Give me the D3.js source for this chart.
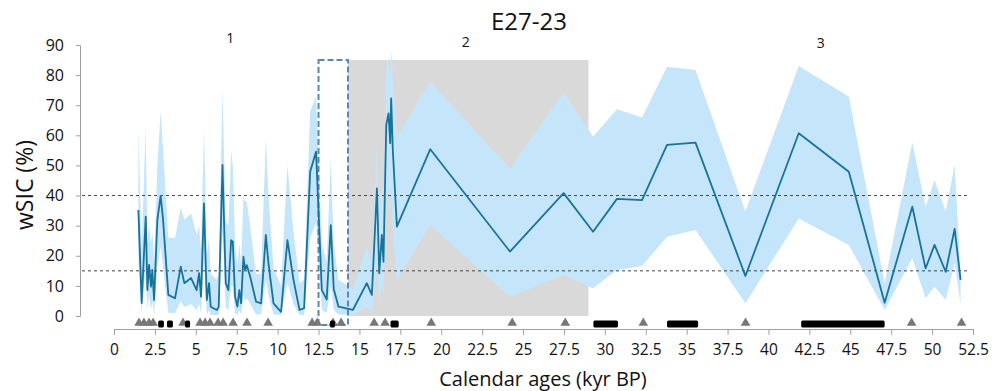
<!DOCTYPE html>
<html>
<head>
<meta charset="utf-8">
<script src="https://cdn.jsdelivr.net/npm/d3@7/dist/d3.min.js"></script>
<style>
  body { margin: 0; background: #fff; }
  svg { display: block; font-family: "Open Sans", "DejaVu Sans", sans-serif; }
</style>
</head>
<body>
<svg id="chart" width="1007" height="391"></svg>
<script>
// ---- data ----
const ages  = [1.49,1.69,1.94,2.04,2.14,2.26,2.34,2.45,2.65,2.85,3.0,3.32,3.73,4.08,4.3,4.71,5.05,5.2,5.32,5.5,5.67,5.81,5.91,6.28,6.4,6.63,6.83,6.99,7.16,7.26,7.4,7.54,7.66,7.77,7.91,8.01,8.11,8.32,8.68,8.99,9.28,9.44,9.75,10.21,10.6,10.97,11.34,11.62,11.99,12.35,12.7,13.0,13.25,13.43,13.72,14.6,15.45,15.76,16.07,16.21,16.37,16.47,16.64,16.78,16.88,16.94,17.04,17.29,19.33,24.2,27.48,29.28,30.74,32.27,33.8,35.54,38.59,41.85,44.91,47.1,48.79,49.6,50.15,50.83,51.38,51.74];
const wsic  = [35.2,4.3,33,8.6,17,9.7,15.3,5.3,31.9,39.9,31.9,7,5.9,16.4,10.9,12.6,8.6,14.2,6.4,37.4,5.3,10.9,3.1,2,3,50.2,10.9,8.6,25.2,24.7,6.4,3.1,8.6,4.2,19.7,15.3,16.9,13.1,4.8,4.2,26.9,17.5,4.2,1.4,25.2,12,2,2.6,47.9,54.6,8.6,5.5,30.2,9,3.1,2.0,10.9,7.0,42.4,14.2,26.9,18,63.5,67.3,57.4,72.3,55.1,29.7,55.4,21.4,40.8,28,38.9,38.5,56.8,57.6,13.3,60.7,47.9,4.4,36.3,15.8,23.6,14.7,28.9,12];
const upper = [63,22,63,24,30,24,28,18,50,68,55,26,26,36,32,34,27,30,22,62,20,26,14,12,14,75,32,30,55,50,24,17,24,17,40,38,38,30,14,14,59,40,16,10,50,28,11,12,68,73,24,18,52,24,12,9,23,18,58,30,45,35,82,86,80,88,80,59.6,77.8,49,74.2,59.6,68.7,65.9,82.8,81.7,34.7,83,72.9,10.9,57.6,36.3,45.2,34.7,50.2,14];
const lower = [18,1,16,2,7,2,5,0.5,16,23,16,1,1,5,3,4,2,4,1,18,0.5,2,0.3,0.3,0.3,28,3,2,10,10,1,0.3,2,0.5,7,5,6,4,0.5,0.5,12,7,0.5,0.3,11,4,0.3,0.3,26,31,2,1,10,2,0.5,0.3,3,1,18,5,10,7,38,43,33,43,28,12,30.2,6.4,13.6,9.2,15.3,16.6,26.3,28.6,4.2,32.4,23.6,2.0,19.2,5.9,9.7,5.3,17.5,4];

const xTicks = [0,2.5,5,7.5,10,12.5,15,17.5,20,22.5,25,27.5,30,32.5,35,37.5,40,42.5,45,47.5,50,52.5];
const yTicks = [0,10,20,30,40,50,60,70,80,90];
const thresholds = [15, 40];

// dated levels (triangles) and age intervals (black bars)
const triangles = [1.53,1.83,2.14,2.39,4.22,5.26,5.57,5.87,6.36,6.67,7.28,8.13,9.42,12.11,12.42,13.39,13.88,15.9,16.57,19.39,24.34,27.58,32.35,38.6,48.75,51.8];
const barStarts = [2.7,3.24,4.34,13.2,16.9,29.3,33.8,42.0];
const barEnds   = [3.05,3.6,4.65,13.5,17.4,30.8,35.7,47.1];

// shaded interval and dashed box
const grayStart = 14.3, grayEnd = 29.0, grayTop = 85;
const boxStart = 12.5, boxEnd = 14.3, boxTop = 85, boxBottom = -3;

const zoneLabels = ["1","2","3"];
const zoneAges   = [7.1, 21.5, 43.2];
const zoneVals   = [90.5, 89.5, 89];

// ---- drawing ----
const svg = d3.select("#chart");
const x = d3.scaleLinear().domain([0, 52.5]).range([114, 973]);
const y = d3.scaleLinear().domain([0, 90]).range([316, 45]);

const textColor = "#111";
const axisColor = "#a0a0a0";

// gray period
svg.append("rect")
  .attr("x", x(grayStart)).attr("y", y(grayTop))
  .attr("width", x(grayEnd) - x(grayStart)).attr("height", y(0) - y(grayTop))
  .attr("fill", "#d9d9d9");

const pts = ages.map((a, i) => ({a, v: wsic[i], u: upper[i], l: lower[i]}));

// uncertainty band
svg.append("path")
  .datum(pts)
  .attr("fill", "#c5e5fb")
  .attr("d", d3.area().x(d => x(d.a)).y0(d => y(d.l)).y1(d => y(d.u)));

// threshold lines
svg.selectAll("line.thr").data(thresholds).enter().append("line")
  .attr("class", "thr")
  .attr("x1", 82).attr("x2", x(52.3))
  .attr("y1", d => y(d)).attr("y2", d => y(d))
  .attr("stroke", "#444").attr("stroke-width", 1)
  .attr("stroke-dasharray", "3,3");

// dashed box
svg.append("rect")
  .attr("x", x(boxStart)).attr("y", y(boxTop))
  .attr("width", x(boxEnd) - x(boxStart)).attr("height", y(boxBottom) - y(boxTop))
  .attr("fill", "none").attr("stroke", "#5a88b3").attr("stroke-width", 2)
  .attr("stroke-dasharray", "6,3");

// main line
svg.append("path")
  .datum(pts)
  .attr("fill", "none")
  .attr("stroke", "#18739a")
  .attr("stroke-width", 1.8)
  .attr("stroke-linejoin", "round")
  .attr("d", d3.line().x(d => x(d.a)).y(d => y(d.v)));

// y axis
const yAxis = svg.append("g").attr("transform", "translate(80,0)")
  .call(d3.axisLeft(y).tickValues(yTicks).tickSize(4).tickPadding(12).tickFormat(d3.format("d")));
yAxis.select(".domain").attr("stroke", axisColor);
yAxis.selectAll(".tick line").attr("stroke", axisColor);
yAxis.selectAll("text").attr("font-size", 16).attr("fill", textColor)
  .attr("font-family", "'Open Sans', sans-serif");

// x axis
const xAxis = svg.append("g").attr("transform", "translate(0,329)")
  .call(d3.axisBottom(x).tickValues(xTicks).tickSize(6).tickSizeOuter(0).tickPadding(9)
    .tickFormat(d => String(d)));
xAxis.select(".domain").attr("stroke", axisColor);
xAxis.selectAll(".tick line").attr("stroke", axisColor);
xAxis.selectAll("text").attr("font-size", 15.5).attr("fill", textColor)
  .attr("font-family", "'Open Sans', sans-serif");

// triangles
const triSym = d3.symbol().type(d3.symbolTriangle).size(40);
svg.selectAll("path.tri").data(triangles).enter().append("path")
  .attr("class", "tri")
  .attr("transform", d => `translate(${x(d)},${y(0) + 7})`)
  .attr("d", triSym)
  .attr("fill", "#777");

// black bars
svg.selectAll("rect.bar").data(barStarts).enter().append("rect")
  .attr("class", "bar")
  .attr("x", (d) => x(d))
  .attr("width", (d, i) => x(barEnds[i]) - x(d))
  .attr("y", y(0) + 4.5).attr("height", 7).attr("rx", 1.5)
  .attr("fill", "#000");

// zone labels
svg.selectAll("text.zone").data(zoneLabels).enter().append("text")
  .attr("class", "zone")
  .attr("x", (d, i) => x(zoneAges[i]))
  .attr("y", (d, i) => y(zoneVals[i]))
  .attr("text-anchor", "middle")
  .attr("font-size", 14).attr("fill", textColor)
  .text(d => d);

// title
svg.append("text")
  .attr("x", 529).attr("y", 30)
  .attr("text-anchor", "middle")
  .attr("font-size", 24).attr("fill", textColor)
  .text("E27-23");

// axis titles
svg.append("text")
  .attr("x", 543).attr("y", 386)
  .attr("text-anchor", "middle")
  .attr("font-size", 20).attr("fill", textColor)
  .text("Calendar ages (kyr BP)");

svg.append("text")
  .attr("transform", "translate(33,185) rotate(-90)")
  .attr("text-anchor", "middle")
  .attr("font-size", 23).attr("fill", textColor)
  .text("wSIC (%)");
</script>
</body>
</html>
